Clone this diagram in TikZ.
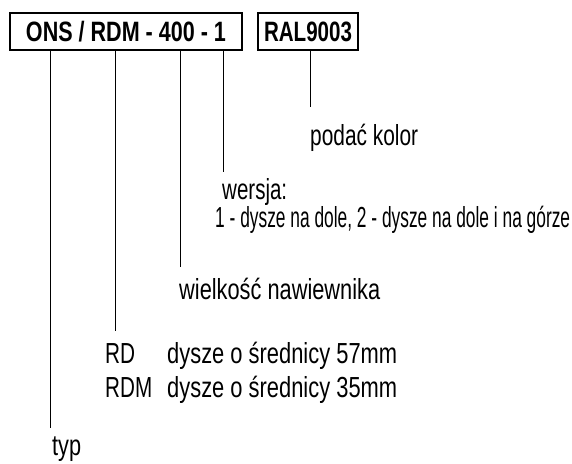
\documentclass[tikz,border=0pt]{standalone}
\usepackage{fontspec}
\setmainfont{Liberation Sans}
\newcommand{\fitw}[2]{\resizebox{#1pt}{\height}{#2}}
\begin{document}
\begin{tikzpicture}[x=1pt,y=-1pt,
  lbl/.style={anchor=base west, inner sep=0pt, font=\fontsize{29}{32}\selectfont},
  codebox/.style={draw, line width=1.8pt, inner sep=0pt, minimum height=37pt,
    font=\fontsize{28}{28}\selectfont\bfseries, text height=20pt, text depth=0pt},
  lead/.style={line width=1pt}]
\useasboundingbox (0,0) rectangle (572,463);
\node[codebox, minimum width=232pt] (code) at (126,31.5) {\fitw{200}{ONS / RDM - 400 - 1}};
\node[codebox, minimum width=100pt] (ral) at (308,31.5) {\fitw{88}{RAL9003}};
\node[lbl] (kolor) at (310,145) {\fitw{108}{podać kolor}};
\node[lbl] (wersja) at (222,199) {\fitw{65}{wersja:}};
\node[lbl] (opcje) at (215,227) {\fitw{355}{1 - dysze na dole, 2 - dysze na dole i na górze}};
\node[lbl] (wielk) at (179,299) {\fitw{201}{wielkość nawiewnika}};
\node[lbl] (rd) at (105,363) {\fitw{30}{RD}};
\node[lbl] (rdopis) at (167,363) {\fitw{230}{dysze o średnicy 57mm}};
\node[lbl] (rdm) at (105,397) {\fitw{47}{RDM}};
\node[lbl] (rdmopis) at (167,397) {\fitw{230}{dysze o średnicy 35mm}};
\node[lbl] (typ) at (52,455) {\fitw{29}{typ}};
\coordinate (e1) at (50,428);
\coordinate (e2) at (115,331);
\coordinate (e3) at (180,267);
\coordinate (e4) at (223,172);
\coordinate (e5) at (310,107);
\draw[lead] (code.south -| e1) -- (e1);
\draw[lead] (code.south -| e2) -- (e2);
\draw[lead] (code.south -| e3) -- (e3);
\draw[lead] (code.south -| e4) -- (e4);
\draw[lead] (ral.south -| e5) -- (e5);
\end{tikzpicture}
\end{document}
